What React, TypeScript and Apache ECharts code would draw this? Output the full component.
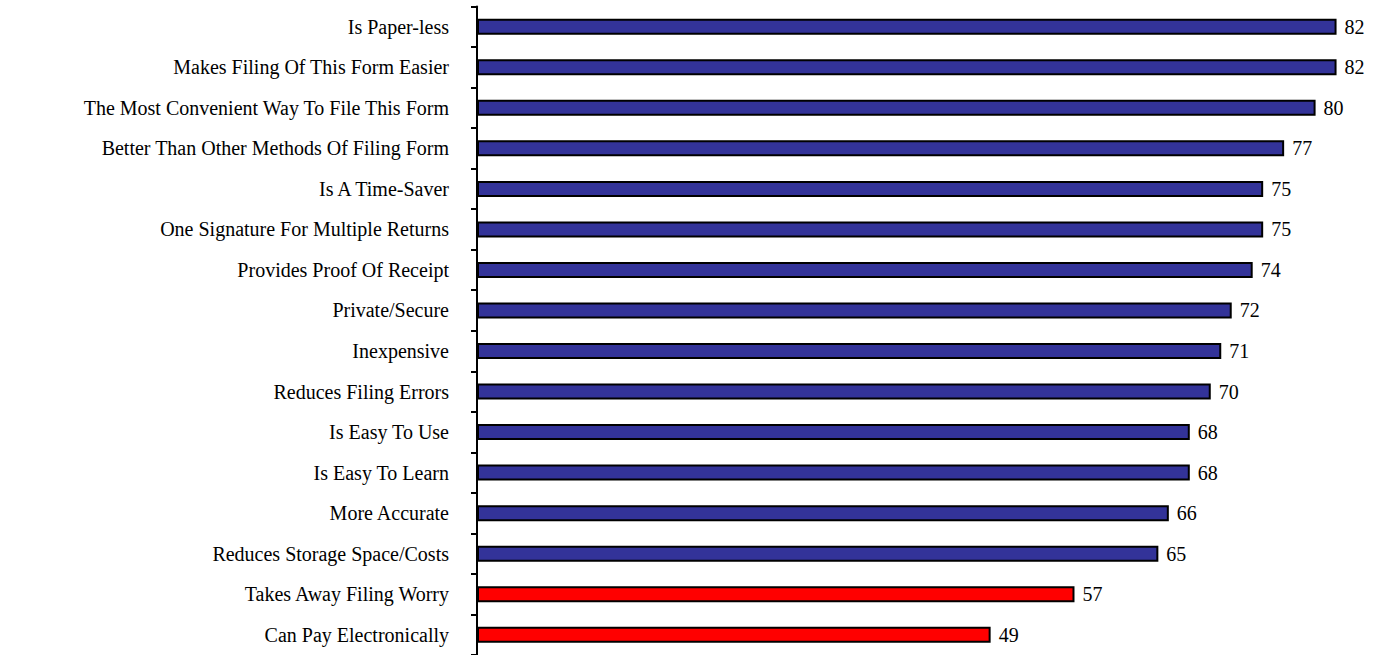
import React, { useEffect, useRef } from "react";
import * as echarts from "echarts";

const categories = [
  "Is Paper-less",
  "Makes Filing Of This Form Easier",
  "The Most Convenient Way To File This Form",
  "Better Than Other Methods Of Filing Form",
  "Is A Time-Saver",
  "One Signature For Multiple Returns",
  "Provides Proof Of Receipt",
  "Private/Secure",
  "Inexpensive",
  "Reduces Filing Errors",
  "Is Easy To Use",
  "Is Easy To Learn",
  "More Accurate",
  "Reduces Storage Space/Costs",
  "Takes Away Filing Worry",
  "Can Pay Electronically",
];
const values = [82, 82, 80, 77, 75, 75, 74, 72, 71, 70, 68, 68, 66, 65, 57, 49];
const highlighted = [false, false, false, false, false, false, false, false, false, false, false, false, false, false, true, true];

const BLUE = "#333399";
const RED = "#FF0000";

export default function App() {
  const ref = useRef<HTMLDivElement>(null);
  useEffect(() => {
    if (!ref.current) return;
    const chart = echarts.init(ref.current, undefined, { renderer: "svg" });
    chart.setOption({
      animation: false,
      backgroundColor: "#ffffff",
      grid: { left: 477, right: 6, top: 6.5, bottom: 0, containLabel: false },
      xAxis: {
        type: "value",
        min: 0,
        max: 85,
        show: false,
      },
      yAxis: {
        type: "category",
        inverse: true,
        data: categories,
        axisLine: { show: true, lineStyle: { color: "#000", width: 2 } },
        axisTick: { show: true, length: 6, lineStyle: { color: "#000", width: 2 } },
        axisLabel: {
          margin: 28,
          color: "#000",
          fontFamily: "Liberation Serif",
          fontSize: 20,
        },
        splitLine: { show: false },
      },
      series: [
        {
          type: "bar",
          barWidth: 16,
          data: values.map((v, i) => ({
            value: v,
            itemStyle: {
              color: highlighted[i] ? RED : BLUE,
              borderColor: "#000",
              borderWidth: 2,
            },
          })),
          label: {
            show: true,
            position: "right",
            distance: 8,
            color: "#000",
            fontFamily: "Liberation Serif",
            fontSize: 20,
          },
        },
      ],
    });
    return () => chart.dispose();
  }, []);
  return (
    <div
      ref={ref}
      style={{ position: "fixed", left: 0, top: 0, width: 1374, height: 655 }}
    />
  );
}
